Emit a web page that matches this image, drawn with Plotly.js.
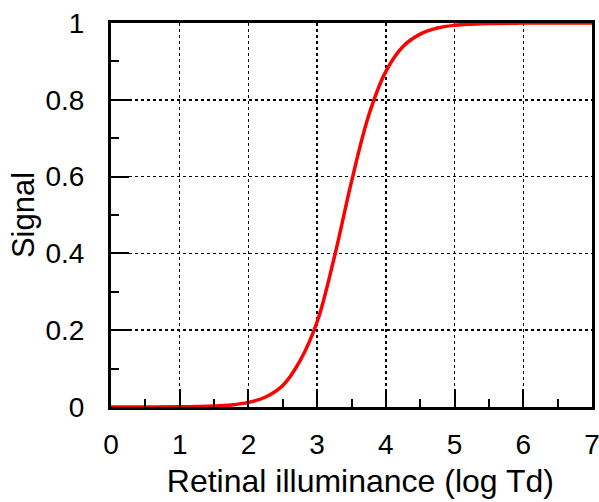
<!DOCTYPE html>
<html>
<head>
<meta charset="utf-8">
<script src="https://cdn.plot.ly/plotly-3.0.1.min.js"></script>
<style>html,body{margin:0;padding:0;background:#fff;}#chart{width:599px;height:502px;}</style>
</head>
<body>
<div id="chart"></div>
<script>
// Retinal illuminance (log Td)
const illuminance = [0, 0.5, 1, 1.25, 1.5, 1.75, 2, 2.25, 2.5, 2.75, 3, 3.25, 3.5, 3.75, 4, 4.25, 4.5, 4.75, 5, 5.25, 5.5, 6, 6.5, 7];
// Signal
const signal = [0, 0.0001, 0.0005, 0.0012, 0.0025, 0.0054, 0.012, 0.026, 0.056, 0.12, 0.222, 0.39, 0.587, 0.759, 0.874, 0.939, 0.971, 0.987, 0.994, 0.997, 0.9988, 0.9997, 1.0, 1.0];

const xTicks = [0, 1, 2, 3, 4, 5, 6, 7];
const yTicks = [0, 0.2, 0.4, 0.6, 0.8, 1];
const yTickText = ['0', '0.2', '0.4', '0.6', '0.8', '1'];

const fontFam = 'Liberation Sans, Arial, sans-serif';

Plotly.newPlot('chart', [{
  x: illuminance,
  y: signal,
  type: 'scatter',
  mode: 'lines',
  line: {color: '#ff0000', width: 3.5, shape: 'spline'},
  cliponaxis: false,
  hoverinfo: 'skip'
}], {
  width: 599,
  height: 502,
  margin: {l: 111, r: 7, t: 23, b: 95},
  paper_bgcolor: '#fff',
  plot_bgcolor: '#fff',
  showlegend: false,
  font: {family: fontFam, color: '#000', size: 28},
  xaxis: {
    range: [0, 7],
    tickvals: xTicks,
    ticktext: xTicks.map(String),
    ticks: 'inside',
    ticklen: 18,
    tickwidth: 2,
    tickcolor: '#000',
    ticklabelstandoff: 10,
    ticklabeloverflow: 'allow',
    showline: true,
    linewidth: 3,
    linecolor: '#000',
    mirror: true,
    showgrid: true,
    gridcolor: '#000',
    gridwidth: 1.5,
    griddash: 'dot',
    zeroline: false,
    tickfont: {size: 28},
    minor: {ticks: 'inside', ticklen: 8, tickwidth: 2, tickcolor: '#000', dtick: 0.5, tick0: 0, showgrid: false},
    title: {text: '&nbsp;&nbsp;Retinal illuminance (log Td)', font: {size: 32}, standoff: 12}
  },
  yaxis: {
    range: [0, 1],
    tickvals: yTicks,
    ticktext: yTickText,
    ticks: 'inside',
    ticklen: 18,
    tickwidth: 2,
    tickcolor: '#000',
    ticklabelstandoff: 18,
    showline: true,
    linewidth: 3,
    linecolor: '#000',
    mirror: true,
    showgrid: true,
    gridcolor: '#000',
    gridwidth: 1.5,
    griddash: 'dot',
    zeroline: false,
    tickfont: {size: 28},
    minor: {ticks: 'inside', ticklen: 8, tickwidth: 2, tickcolor: '#000', dtick: 0.1, tick0: 0, showgrid: false},
    title: {text: 'Signal', font: {size: 31}, standoff: 2}
  }
}, {displayModeBar: false, staticPlot: true});
</script>
</body>
</html>
